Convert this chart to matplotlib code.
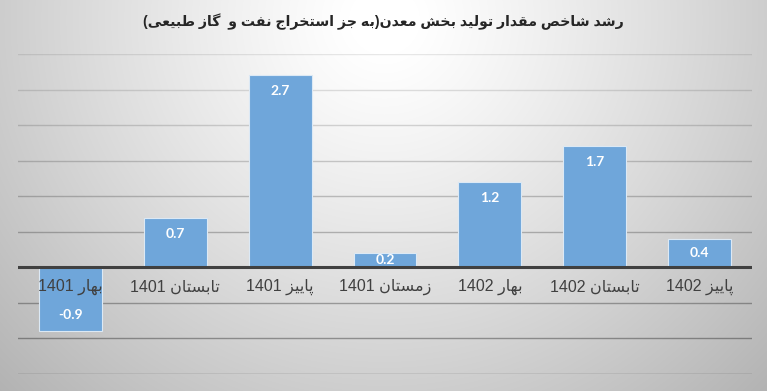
import re
import numpy as np
import matplotlib
matplotlib.use("Agg")
import matplotlib.pyplot as plt

# Chart data
categories = ["بهار 1401", "تابستان 1401", "پاییز 1401", "زمستان 1401",
              "بهار 1402", "تابستان 1402", "پاییز 1402"]
values = [-0.9, 0.7, 2.7, 0.2, 1.2, 1.7, 0.4]
title = "رشد شاخص مقدار تولید بخش معدن(به جز استخراج نفت و  گاز طبیعی)"
y_ticks = [-1.5, -1.0, -0.5, 0.0, 0.5, 1.0, 1.5, 2.0, 2.5, 3.0]

# matplotlib has no Arabic shaping / bidi, so do a tiny version of it here:
# pick the presentation form of each letter, then lay the text out right to left.
# (isolated, final) for right-joining letters, + (initial, medial) for dual-joining
FORMS = {
    'ا': (0xFE8D, 0xFE8E),
    'ب': (0xFE8F, 0xFE90, 0xFE91, 0xFE92),
    'پ': (0xFB56, 0xFB57, 0xFB58, 0xFB59),
    'ت': (0xFE95, 0xFE96, 0xFE97, 0xFE98),
    'ج': (0xFE9D, 0xFE9E, 0xFE9F, 0xFEA0),
    'خ': (0xFEA5, 0xFEA6, 0xFEA7, 0xFEA8),
    'د': (0xFEA9, 0xFEAA),
    'ر': (0xFEAD, 0xFEAE),
    'ز': (0xFEAF, 0xFEB0),
    'س': (0xFEB1, 0xFEB2, 0xFEB3, 0xFEB4),
    'ش': (0xFEB5, 0xFEB6, 0xFEB7, 0xFEB8),
    'ص': (0xFEB9, 0xFEBA, 0xFEBB, 0xFEBC),
    'ط': (0xFEC1, 0xFEC2, 0xFEC3, 0xFEC4),
    'ع': (0xFEC9, 0xFECA, 0xFECB, 0xFECC),
    'ف': (0xFED1, 0xFED2, 0xFED3, 0xFED4),
    'ق': (0xFED5, 0xFED6, 0xFED7, 0xFED8),
    'گ': (0xFB92, 0xFB93, 0xFB94, 0xFB95),
    'ل': (0xFEDD, 0xFEDE, 0xFEDF, 0xFEE0),
    'م': (0xFEE1, 0xFEE2, 0xFEE3, 0xFEE4),
    'ن': (0xFEE5, 0xFEE6, 0xFEE7, 0xFEE8),
    'ه': (0xFEE9, 0xFEEA, 0xFEEB, 0xFEEC),
    'و': (0xFEED, 0xFEEE),
    'ی': (0xFBFC, 0xFBFD, 0xFBFE, 0xFBFF),
}


def shape(s):
    out = []
    for i, c in enumerate(s):
        if c not in FORMS:
            out.append(c)
            continue
        prev = s[i - 1] if i > 0 else ''
        nxt = s[i + 1] if i + 1 < len(s) else ''
        joins_prev = prev in FORMS and len(FORMS[prev]) == 4
        joins_next = len(FORMS[c]) == 4 and nxt in FORMS
        f = FORMS[c]
        if joins_prev and joins_next:
            out.append(chr(f[3]))
        elif joins_next:
            out.append(chr(f[2]))
        elif joins_prev:
            out.append(chr(f[1]))
        else:
            out.append(chr(f[0]))
    return ''.join(out)


def rtl(s):
    tokens = re.findall(r'[0-9.]+|.', shape(s), re.S)
    mirror = {'(': ')', ')': '('}
    return ''.join(mirror.get(t, t) for t in reversed(tokens))


W, H = 767, 391
fig = plt.figure(figsize=(W / 100, H / 100), dpi=100)

# radial gray background, light at the top middle
bg = fig.add_axes([0, 0, 1, 1], zorder=-10)
yy, xx = np.mgrid[0:H, 0:W]
d = np.sqrt(((xx - 384) / 440.0) ** 2 + ((yy - 20) / 430.0) ** 2)
shade = np.clip(258 - 62 * d ** 1.2, 178, 255) / 255.0
bg.imshow(np.dstack([shade] * 3), aspect='auto', extent=[0, 1, 0, 1])
bg.axis('off')

ax = fig.add_axes([18 / W, 1 - 374 / H, 734 / W, 320 / H])
ax.set_facecolor('none')
x = np.arange(len(values))
ax.bar(x, values, width=0.6, color='#6fa6da', edgecolor='#dce9f5', linewidth=0.8, zorder=3)

ax.set_xlim(-0.5, len(values) - 0.5)
ax.set_ylim(y_ticks[0], y_ticks[-1])
for t in y_ticks:
    if t == 0:
        continue
    # gridlines look lighter near the top of the picture
    a = 0.09 + 0.28 * (y_ticks[-1] - t) / (y_ticks[-1] - y_ticks[0])
    ax.axhline(t, color='black', alpha=a, linewidth=1.0, zorder=1)
ax.axhline(0, color='#404040', linewidth=2.2, zorder=4)

for side in ['top', 'right', 'left', 'bottom']:
    ax.spines[side].set_visible(False)
ax.set_xticks([])
ax.set_yticks([])

fonts = ['Liberation Sans', 'DejaVu Sans']
for i, cat in enumerate(categories):
    ax.annotate(rtl(cat), (i, 0), xytext=(0, -20), textcoords='offset pixels',
                ha='center', va='center', fontsize=11.5, color='#404040',
                family=fonts, zorder=5)

# value labels inside the bar ends
px_per_unit = 320 / (y_ticks[-1] - y_ticks[0])
for i, v in enumerate(values):
    off = min(16, abs(v) * px_per_unit / 2)
    off = -off if v > 0 else off
    ax.annotate(f"{v:.1f}", (i, v), xytext=(0, off), textcoords='offset pixels',
                ha='center', va='center', fontsize=10, color='white',
                fontweight='bold', family='Lato', zorder=6)

fig.text(0.5, 1 - 22 / H, rtl(title), ha='center', va='center', fontsize=10.2,
         fontweight='bold', color='#262626', family=fonts)

fig.savefig('out.png', dpi=100)
